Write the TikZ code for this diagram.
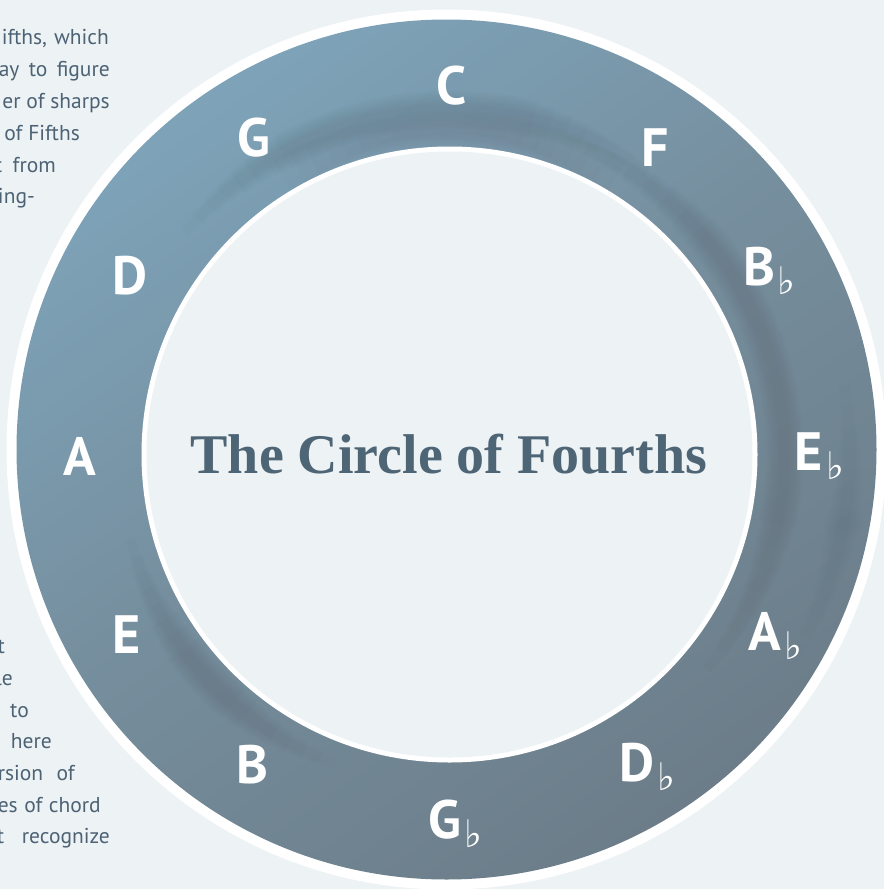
\documentclass[tikz,border=0pt]{standalone}
\usepackage{fontspec}
\setmainfont{PT Sans}
\newfontfamily\titlefont{Liberation Serif}
\newfontfamily\flatfont{DejaVu Sans}
\definecolor{bgc}{HTML}{EDF2F5}
\definecolor{txtc}{HTML}{4D6375}
\definecolor{titlec}{HTML}{4E6576}
\definecolor{ringlight}{HTML}{7EA3B9}
\definecolor{ringmid}{HTML}{758D9C}
\definecolor{ringdark}{HTML}{6C7D89}
\definecolor{streak}{HTML}{55636D}
\newcommand\fl{\rlap{\hspace{3pt}\raisebox{-9pt}{\flatfont\mdseries\fontsize{38}{38}\selectfont ♭}}}
\newcommand\jl[2]{\makebox[#1pt][s]{#2}}
\tikzset{
  bodytext/.style={font=\fontsize{21.5}{24}\selectfont, text=txtc, inner sep=0pt, anchor=base east},
  keylab/.style={font=\bfseries\fontsize{54}{54}\selectfont, text=white, inner sep=0pt},
  titletext/.style={font=\titlefont\bfseries\fontsize{56}{60}\selectfont, text=titlec, inner sep=0pt, anchor=base}
}
\begin{document}
\begin{tikzpicture}[x=1pt,y=-1pt]
\useasboundingbox (0,0) rectangle (884,889);
\clip (0,0) rectangle (884,889);
\fill[bgc] (0,0) rectangle (884,889);

% body text (justified paragraph, clipped at the left edge)
\node[bodytext] (t1) at (109,44) {\jl{107}{ifths, which}};
\node[bodytext] (t2) at (110,76) {\jl{111}{ay to figure}};
\node[bodytext] (t3) at (110,108) {er of sharps};
\node[bodytext] (t4) at (80,140) {of Fifths};
\node[bodytext] (t5) at (56,172) {\jl{61}{t from}};
\node[bodytext] (t6) at (35,203) {ing-};
\node[bodytext] (b1) at (5,653) {t};
\node[bodytext] (b2) at (13,685) {le};
\node[bodytext] (b3) at (29,717) {to};
\node[bodytext] (b4) at (52,748) {here};
\node[bodytext] (b5) at (75,780) {\jl{77}{rsion of}};
\node[bodytext] (b6) at (101,812) {\jl{103}{es of chord}};
\node[bodytext] (b7) at (110,843) {\jl{113}{t recognize}};

% ring
\coordinate (oc) at (446.5,449.5);
\coordinate (ic) at (449.5,454.5);
\fill[white] (oc) circle (440);
\shade[top color=ringlight, bottom color=ringdark, middle color=ringmid, shading angle=35] (oc) circle (430);
\begin{scope}
\clip (oc) circle (430);
\foreach \i in {0,...,7}{
  \pgfmathsetmacro\w{10+4*\i}
  \draw[streak, opacity=0.035, line width=\w pt] (ic) ++(-70+4*\i:335) arc (-70+4*\i:40-4*\i:335);
  \draw[streak, opacity=0.03, line width=\w pt] (ic) ++(-140+3*\i:345) arc (-140+3*\i:-55-3*\i:345);
  \draw[streak, opacity=0.035, line width=\w pt] (ic) ++(110+3*\i:330) arc (110+3*\i:165-3*\i:330);
  \draw[streak, opacity=0.025, line width=\w pt] (ic) ++(-10+3*\i:400) arc (-10+3*\i:30-3*\i:400);
  \draw[streak, opacity=0.025, line width=\w pt] (ic) ++(-80+3*\i:325) arc (-80+3*\i:-100-3*\i:325);
}
\end{scope}
\fill[white] (ic) circle (308);
\fill[bgc] (ic) circle (303);

% title
\node[titletext] (title) at (449,473) {The Circle of Fourths};

% keys
\node[keylab] (kC)  at (452,86)  {C};
\node[keylab] (kF)  at (655,148) {F};
\node[keylab] (kBb) at (759,271) {B\fl};
\node[keylab] (kEb) at (809,456) {E\fl};
\node[keylab] (kAb) at (765,636) {A\fl};
\node[keylab] (kDb) at (637,767) {D\fl};
\node[keylab] (kGb) at (445,824) {G\fl};
\node[keylab] (kB)  at (252,765) {B};
\node[keylab] (kE)  at (127,635) {E};
\node[keylab] (kA)  at (80,456)  {A};
\node[keylab] (kD)  at (130,276) {D};
\node[keylab] (kG)  at (254,138) {G};
\end{tikzpicture}
\end{document}
